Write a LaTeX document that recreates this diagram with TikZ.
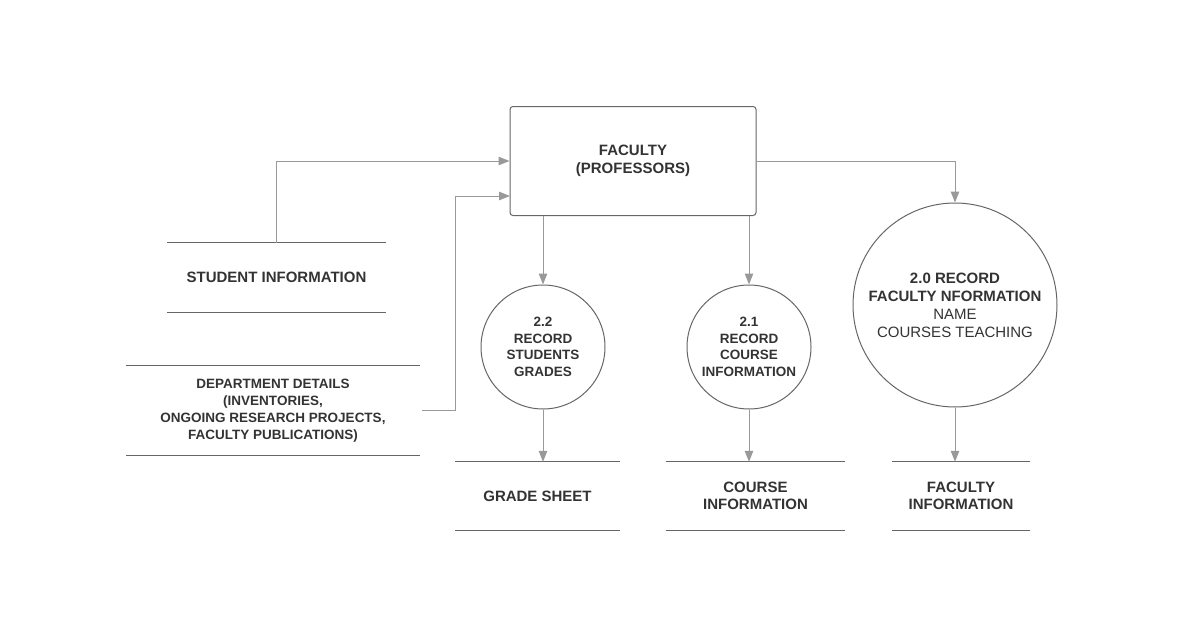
\documentclass[tikz,border=0pt]{standalone}
\usepackage{fontspec}
\setmainfont{Liberation Sans}
\usetikzlibrary{arrows.meta}
\definecolor{txtgray}{HTML}{333333}
\definecolor{linegray}{HTML}{666666}
\definecolor{flowgray}{HTML}{999999}

\begin{document}
\begin{tikzpicture}[x=1pt,y=-1pt,
  every node/.style={font=\fontsize{15}{17.5}\selectfont\bfseries, text=txtgray, align=center},
  small/.style={font=\fontsize{13.5}{16.5}\selectfont\bfseries},
  entity/.style={draw=linegray, line width=1pt, rounded corners=3pt, minimum width=246pt, minimum height=109pt},
  proc/.style={circle, draw=linegray, line width=1pt, inner sep=0pt},
  store/.style={minimum height=68pt, inner sep=0pt},
  storeline/.style={draw=linegray, line width=1pt},
  flow/.style={draw=flowgray, line width=1pt, -{Triangle[length=11pt,width=8.5pt,fill=flowgray]}}]
\useasboundingbox (0,0) rectangle (1179,629);
% external entity
\node[entity] (fac) at (633,161) {FACULTY\\(PROFESSORS)};
% processes
\node[proc, small, minimum size=124pt] (c22) at (543,347) {2.2\\RECORD\\STUDENTS\\GRADES};
\node[proc, small, minimum size=124pt] (c21) at (749,347) {2.1\\RECORD\\COURSE\\INFORMATION};
\node[proc, minimum size=204pt, font=\fontsize{15}{18}\selectfont\bfseries] (c20) at (955,305) {2.0 RECORD\\FACULTY NFORMATION\\\mdseries NAME\\\mdseries COURSES TEACHING};
% data stores
\node[store, minimum width=219pt, minimum height=69pt] (stu) at (276.5,277.5) {STUDENT INFORMATION};
\node[store, minimum width=294pt, minimum height=89pt, font=\fontsize{13.5}{17}\selectfont\bfseries] (dep) at (273,410.5) {DEPARTMENT DETAILS\\(INVENTORIES,\\ONGOING RESEARCH PROJECTS,\\FACULTY PUBLICATIONS)};
\node[store, minimum width=165pt] (grd) at (537.5,496) {GRADE SHEET};
\node[store, minimum width=179pt] (crs) at (755.5,496) {COURSE\\INFORMATION};
\node[store, minimum width=138pt] (fin) at (961,496) {FACULTY\\INFORMATION};
\foreach \s in {stu,dep,grd,crs,fin}{
  \draw[storeline] (\s.north west) -- (\s.north east);
  \draw[storeline] (\s.south west) -- (\s.south east);
}
% flows
\coordinate (facin) at (510,196);
\draw[flow] (stu.north) |- (fac.west);
\draw[flow] ([xshift=2pt]dep.east) -- ++(33,0) |- (facin);
\draw[flow] (c22 |- fac.south) -- (c22.north);
\draw[flow] (c21 |- fac.south) -- (c21.north);
\draw[flow] (fac.east) -| (c20.north);
\draw[flow] (c22.south) -- (c22 |- grd.north);
\draw[flow] (c21.south) -- (c21 |- crs.north);
\draw[flow] (c20.south) -- (c20 |- fin.north);
\end{tikzpicture}
\end{document}
